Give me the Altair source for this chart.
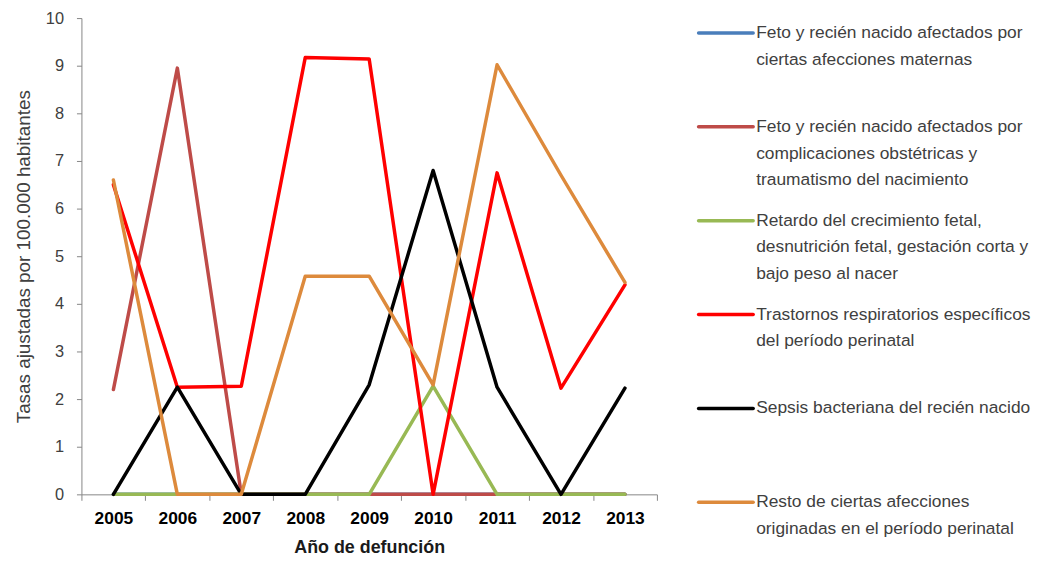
import altair as alt
import pandas as pd

years = [2005, 2006, 2007, 2008, 2009, 2010, 2011, 2012, 2013]

series_names = [
    "Feto y recién nacido afectados por|ciertas afecciones maternas",
    "Feto y recién nacido afectados por|complicaciones obstétricas y|traumatismo del nacimiento",
    "Retardo del crecimiento fetal,|desnutrición fetal, gestación corta y|bajo peso al nacer",
    "Trastornos respiratorios específicos|del período perinatal",
    "Sepsis bacteriana del recién nacido",
    "Resto de ciertas afecciones|originadas en el período perinatal",
]
series_colors = ["#4A7EBB", "#BE4B48", "#98B954", "#FF0000", "#000000", "#DD8A3C"]

afecciones_maternas = [0, 0, 0, 0, 0, 0, 0, 0, 0]
complicaciones_obstetricas = [2.2, 8.95, 0, 0, 0, 0, 0, 0, 0]
retardo_crecimiento = [0, 0, 0, 0, 0, 2.27, 0, 0, 0]
trastornos_respiratorios = [6.5, 2.25, 2.27, 9.17, 9.14, 0, 6.75, 2.23, 4.4]
sepsis_bacteriana = [0, 2.25, 0, 0, 2.3, 6.8, 2.25, 0, 2.23]
resto_afecciones = [6.6, 0, 0, 4.58, 4.58, 2.3, 9.02, 6.7, 4.45]

all_values = [
    afecciones_maternas,
    complicaciones_obstetricas,
    retardo_crecimiento,
    trastornos_respiratorios,
    sepsis_bacteriana,
    resto_afecciones,
]

rows = []
for order, (name, vals) in enumerate(zip(series_names, all_values)):
    for yr, v in zip(years, vals):
        rows.append({"serie": name, "orden": order, "anio": yr, "tasa": v})
df = pd.DataFrame(rows)
legend_df = pd.DataFrame({"serie": series_names, "orden": list(range(len(series_names)))})

FONT = "Liberation Sans"
color_scale = alt.Scale(domain=series_names, range=series_colors)

tick_values = [y - 0.5 for y in years] + [years[-1] + 0.5]
x_axis_values = sorted(tick_values + years)

lines = alt.Chart(df).mark_line(strokeWidth=3.5, strokeCap="round", strokeJoin="round").encode(
    x=alt.X(
        "anio:Q",
        scale=alt.Scale(domain=[years[0] - 0.5, years[-1] + 0.5], nice=False, zero=False),
        axis=alt.Axis(
            values=x_axis_values,
            labelExpr="datum.value % 1 == 0 ? format(datum.value, 'd') : ''",
            tickOpacity={"condition": {"test": "datum.value % 1 != 0", "value": 1}, "value": 0},
            labelFlush=False,
            labelOverlap=False,
            grid=False,
            tickSize=6,
            tickColor="#868686",
            domainColor="#868686",
            labelFont=FONT,
            labelFontSize=17.5,
            labelFontWeight="bold",
            labelColor="#000000",
            labelPadding=9,
            title="Año de defunción",
            titleFont=FONT,
            titleFontSize=18,
            titleFontWeight="bold",
            titleColor="#1a1a1a",
            titlePadding=12,
        ),
    ),
    y=alt.Y(
        "tasa:Q",
        scale=alt.Scale(domain=[0, 10], nice=False),
        axis=alt.Axis(
            values=list(range(0, 11)),
            grid=False,
            tickSize=5,
            tickColor="#868686",
            domainColor="#868686",
            labelFont=FONT,
            labelFontSize=16.5,
            labelColor="#404040",
            labelPadding=13,
            title="Tasas ajustadas por 100.000 habitantes",
            titleFont=FONT,
            titleFontSize=19,
            titleFontWeight="normal",
            titleColor="#404040",
            titlePadding=12,
        ),
    ),
    color=alt.Color("serie:N", scale=color_scale, legend=None),
    detail="serie:N",
    order=alt.Order("orden:Q"),
).properties(width=580, height=480)

legend_y = alt.Y(
    "serie:N",
    sort=series_names,
    scale=alt.Scale(type="point", domain=series_names, range=[15, 488], padding=0),
    axis=None,
)

legend_rules = alt.Chart(legend_df).mark_rule(strokeWidth=3.5, strokeCap="round").encode(
    x=alt.value(2),
    x2=alt.value(57),
    y=legend_y,
    color=alt.Color("serie:N", scale=color_scale, legend=None),
)

legend_text = alt.Chart(legend_df).mark_text(
    align="left",
    baseline="top",
    dy=-9,
    lineBreak="|",
    lineHeight=27,
    font=FONT,
    fontSize=17.5,
    color="#404040",
).encode(
    x=alt.value(60),
    y=legend_y,
    text="serie:N",
)

legend_chart = alt.layer(legend_rules, legend_text).properties(width=270, height=480)

chart = alt.hconcat(lines, legend_chart, spacing=39).properties(
    padding={"left": 6, "top": 0, "right": 0, "bottom": 0}
).configure(background="white").configure_view(stroke=None)

chart.save("out.html", embed_options={"renderer": "svg", "actions": False})
